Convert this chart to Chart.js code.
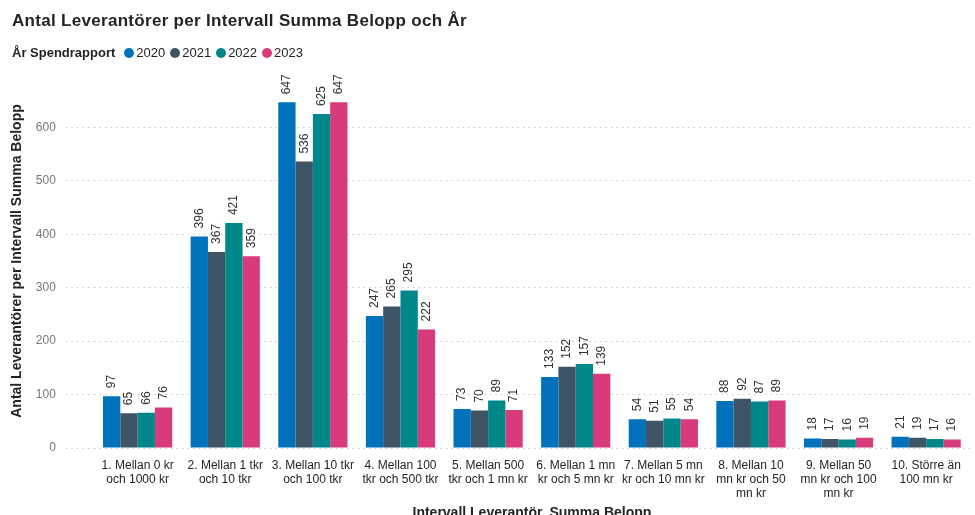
<!DOCTYPE html>
<html>
<head>
<meta charset="utf-8">
<script src="https://cdn.jsdelivr.net/npm/chart.js@4"></script>
<style>
  body { margin: 0; background: #fff; overflow: hidden; }
  #wrap { position: relative; width: 975px; height: 522px; }
  #hdr { position: absolute; left: 12px; top: 0; font-family: "Liberation Sans", Arial, sans-serif; color: #252423; }
  #title { position: absolute; top: 11px; left: 0; white-space: nowrap; font-size: 17px; font-weight: 900; letter-spacing: 0.3px; }
  #legend { position: absolute; top: 45px; left: 0; white-space: nowrap; font-size: 13px; display: flex; align-items: center; }
  #legend b { margin-right: 9px; }
  #legend span.dot { display: inline-block; width: 10px; height: 10px; border-radius: 50%; margin-right: 2px; }
  #legend span.lbl { margin-right: 5px; }
</style>
</head>
<body>
<div id="wrap">
  <canvas id="myChart"></canvas>
  <div id="hdr">
    <div id="title">Antal Leverantörer per Intervall Summa Belopp och År</div>
    <div id="legend"><b>År Spendrapport</b></div>
  </div>
</div>
<script>
// Kategorier (radbrytningar som i originalet)
const categories = [
  ["1. Mellan 0 kr", "och 1000 kr"],
  ["2. Mellan 1 tkr", "och 10 tkr"],
  ["3. Mellan 10 tkr", "och 100 tkr"],
  ["4. Mellan 100", "tkr och 500 tkr"],
  ["5. Mellan 500", "tkr och 1 mn kr"],
  ["6. Mellan 1 mn", "kr och 5 mn kr"],
  ["7. Mellan 5 mn", "kr och 10 mn kr"],
  ["8. Mellan 10", "mn kr och 50", "mn kr"],
  ["9. Mellan 50", "mn kr och 100", "mn kr"],
  ["10. Större än", "100 mn kr"]
];
const years = ["2020", "2021", "2022", "2023"];
const v2020 = [97, 396, 647, 247, 73, 133, 54, 88, 18, 21];
const v2021 = [65, 367, 536, 265, 70, 152, 51, 92, 17, 19];
const v2022 = [66, 421, 625, 295, 89, 157, 55, 87, 16, 17];
const v2023 = [76, 359, 647, 222, 71, 139, 54, 89, 19, 16];
const yTicks = [0, 100, 200, 300, 400, 500, 600];
const barColors = ["#0072BC", "#3F5465", "#00878A", "#D73B7C"];

const series = [v2020, v2021, v2022, v2023];

// legend i html
const legendEl = document.getElementById('legend');
years.forEach((y, i) => {
  const d = document.createElement('span');
  d.className = 'dot';
  d.style.background = barColors[i];
  const l = document.createElement('span');
  l.className = 'lbl';
  l.textContent = y;
  legendEl.appendChild(d);
  legendEl.appendChild(l);
});

// värden ovanför staplarna, roterade
const valueLabels = {
  id: 'valueLabels',
  afterDatasetsDraw(chart) {
    const c = chart.ctx;
    c.save();
    c.font = '12px "Liberation Sans", Arial, sans-serif';
    c.fillStyle = '#333';
    c.textAlign = 'left';
    c.textBaseline = 'middle';
    chart.data.datasets.forEach((ds, di) => {
      chart.getDatasetMeta(di).data.forEach((bar, i) => {
        c.save();
        c.translate(bar.x, bar.y - 8);
        c.rotate(-Math.PI / 2);
        c.fillText(ds.data[i], 0, 0);
        c.restore();
      });
    });
    c.restore();
  }
};

const ctx = document.getElementById('myChart');

new Chart(ctx, {
  type: 'bar',
  data: {
    labels: categories,
    datasets: years.map((y, i) => ({
      label: y,
      data: series[i],
      backgroundColor: barColors[i],
      barPercentage: 1,
      categoryPercentage: 0.79
    }))
  },
  options: {
    responsive: true,
    maintainAspectRatio: false,
    animation: false,
    layout: { padding: { top: 74, right: 5, left: 9, bottom: 0 } },
    plugins: {
      legend: { display: false },
      tooltip: { enabled: false }
    },
    scales: {
      x: {
        grid: { display: false },
        border: { display: false },
        ticks: {
          color: '#252423',
          font: { size: 12, family: '"Liberation Sans", Arial, sans-serif' },
          maxRotation: 0,
          autoSkip: false,
          padding: 2
        },
        title: {
          display: true,
          text: 'Intervall Leverantör. Summa Belopp',
          color: '#252423',
          font: { size: 14, weight: 'bold', family: '"Liberation Sans", Arial, sans-serif' },
          padding: { top: 2, bottom: 0 }
        }
      },
      y: {
        min: 0,
        max: 700,
        afterBuildTicks: axis => {
          axis.ticks = yTicks.map(v => ({ value: v }));
        },
        grid: {
          color: '#c8c8c8',
          lineWidth: 1,
          tickLength: 28,
          tickBorderDash: [1.5, 4],
          tickColor: '#c8c8c8'
        },
        border: { display: false, dash: [1.5, 4] },
        ticks: {
          color: '#777',
          font: { size: 12, family: '"Liberation Sans", Arial, sans-serif' },
          padding: 10
        },
        title: {
          display: true,
          text: 'Antal Leverantörer per Intervall Summa Belopp',
          color: '#252423',
          font: { size: 14, weight: 'bold', family: '"Liberation Sans", Arial, sans-serif' },
          padding: { top: 0, bottom: 0 }
        }
      }
    }
  },
  plugins: [valueLabels]
});
</script>
</body>
</html>
